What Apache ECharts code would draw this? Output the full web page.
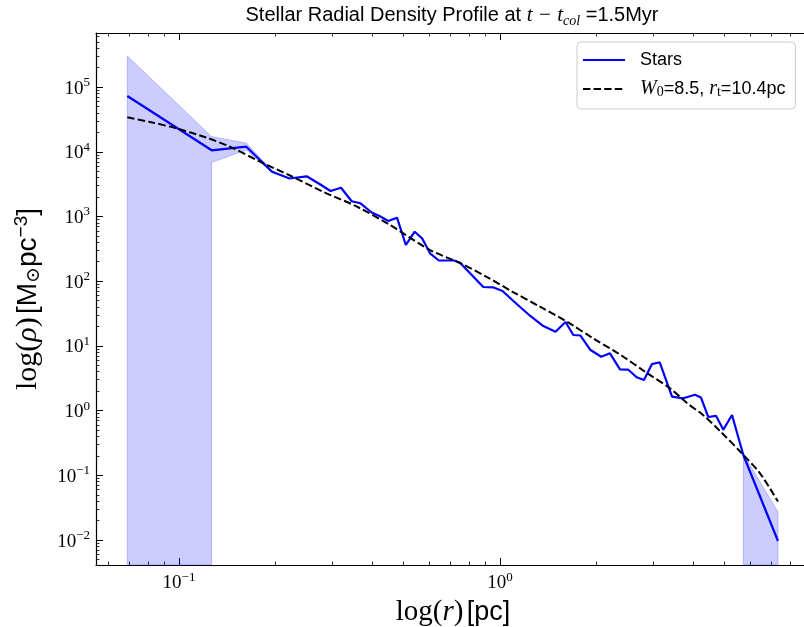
<!DOCTYPE html>
<html>
<head>
<meta charset="utf-8">
<script src="https://cdn.jsdelivr.net/npm/echarts@6/dist/echarts.min.js"></script>
<style>
  html, body { margin: 0; padding: 0; background: #ffffff; }
  #chart { width: 804px; height: 627px; }
</style>
</head>
<body>
<div id="chart"></div>
<script>
// Stellar density profile (radius in pc, density in Msun/pc^3)
const radius = [
  0.06901, 0.12641, 0.16209, 0.19494, 0.22089, 0.24986, 0.27403, 0.29648, 0.31966, 0.34514,
  0.36761, 0.39838, 0.42283, 0.44875, 0.47765, 0.50886, 0.54224, 0.57244, 0.60536, 0.64468,
  0.71908, 0.75067, 0.88698, 0.95105, 1.0181, 1.1274, 1.2401, 1.3643, 1.4892, 1.5999,
  1.6922, 1.7813, 1.9143, 2.0665, 2.2011, 2.3650, 2.5101, 2.6661, 2.8093, 2.9752,
  3.1445, 3.4355, 3.7239, 4.0502, 4.2285, 4.4557, 4.7086, 4.9626, 5.2817, 5.7283,
  7.3453
];
const density = [
  72850, 10550, 11990, 4924, 3867, 4181, 3180, 2479, 2787, 1718,
  1600, 1153, 1007, 852, 958, 362.6, 582.3, 457.1, 269.9, 208.9,
  208.9, 193.1, 81.35, 80.48, 70.55, 44.42, 29.30, 20.30, 16.58, 23.41,
  14.74, 14.48, 8.644, 6.809, 7.685, 4.347, 4.286, 3.272, 2.972, 5.252,
  5.579, 1.640, 1.549, 1.761, 1.594, 0.7963, 0.8311, 0.5069, 0.8551, 0.2060,
  0.00965
];

// King model profile, W0 = 8.5, rt = 10.4 pc
const kingRadius = [
  0.06901, 0.08124, 0.09717, 0.12139, 0.14413, 0.17881, 0.22169, 0.28094, 0.35847, 0.45433,
  0.60536, 0.75067, 0.91104, 1.0977, 1.3322, 1.6173, 1.9488, 2.3650, 2.8707, 3.3860,
  3.8239, 4.2897, 4.8459, 5.7148, 6.4565, 7.3453
];
const kingDensity = [
  34140, 28880, 23330, 16630, 11990, 7031, 4302, 2417, 1418, 738.9,
  303.5, 191.1, 116.1, 68.09, 40.35, 23.66, 13.11, 7.364, 3.812, 2.212,
  1.311, 0.8551, 0.4839, 0.2097, 0.1074, 0.03936
];

// Uncertainty bands (null lower bound = error reaches zero)
const bandInnerR = [0.06901, 0.12641, 0.16209, 0.19494];
const bandInnerUpper = [302500, 17120, 13680, 5100];
const bandInnerLower = [null, 6880, 10660, 4750];
const bandOuterR = [5.7283, 7.3453];
const bandOuterUpper = [0.2150, 0.02708];
const bandOuterLower = [0.2000, null];

// Axis ticks
const xMajorTicks = [0.1, 1];
const xMinorTicks = [0.06, 0.07, 0.08, 0.09, 0.2, 0.3, 0.4, 0.5, 0.6, 0.7, 0.8, 0.9,
                     2, 3, 4, 5, 6, 7, 8, 9];
const yMajorTicks = [0.01, 0.1, 1, 10, 100, 1000, 10000, 100000];
const yMinorTicks = [];
for (let e = -3; e <= 5; e++) {
  for (let m = 2; m <= 9; m++) yMinorTicks.push(+(m * Math.pow(10, e)).toPrecision(3));
}

const X_MIN = 0.05513, X_MAX = 9.242;
const Y_MIN = 0.004111, Y_MAX = 685500;

const SERIF = "'Liberation Serif', 'DejaVu Serif', serif";
const SANS = "'Liberation Sans', 'DejaVu Sans', sans-serif";

const bands = [
  { r: bandInnerR, upper: bandInnerUpper, lower: bandInnerLower },
  { r: bandOuterR, upper: bandOuterUpper, lower: bandOuterLower }
];

function powerLabel(v) {
  const e = Math.round(Math.log10(v));
  const s = e < 0 ? '\u2212' + (-e) : String(e);
  return '{b|10}{s|' + s + '}';
}

const tickRich = {
  b: { fontFamily: SERIF, fontSize: 19, lineHeight: 22, color: '#000', verticalAlign: 'bottom' },
  s: { fontFamily: SERIF, fontSize: 13, lineHeight: 13, color: '#000', verticalAlign: 'top' }
};

function logAxis(extra) {
  return Object.assign({
    type: 'log',
    logBase: 10,
    gridIndex: 0,
    splitLine: { show: false },
    minorTick: { show: false },
    minorSplitLine: { show: false }
  }, extra);
}

const xAxes = [
  logAxis({
    position: 'bottom', min: X_MIN, max: X_MAX,
    axisLine: { show: true, onZero: false, lineStyle: { color: '#000', width: 1.2 } },
    axisTick: { show: true, inside: true, length: 7, customValues: xMajorTicks, lineStyle: { color: '#000', width: 1 } },
    axisLabel: { show: true, margin: 6, customValues: xMajorTicks, formatter: powerLabel, rich: tickRich },
    name: '{m|log(}{mi|r}{m|)} {t|[pc]}',
    nameLocation: 'middle', nameGap: 21,
    nameTextStyle: {
      rich: {
        m: { fontFamily: SERIF, fontSize: 29, lineHeight: 32, color: '#000' },
        mi: { fontFamily: SERIF, fontStyle: 'italic', fontSize: 29, lineHeight: 32, color: '#000' },
        t: { fontFamily: SANS, fontSize: 27, lineHeight: 32, color: '#000' }
      }
    }
  }),
  logAxis({
    position: 'bottom', min: X_MIN, max: X_MAX,
    axisLine: { show: false, onZero: false },
    axisTick: { show: true, inside: true, length: 3.5, customValues: xMinorTicks, lineStyle: { color: '#000', width: 0.8 } },
    axisLabel: { show: false }
  }),
  logAxis({
    position: 'top', min: X_MIN, max: X_MAX,
    axisLine: { show: true, onZero: false, lineStyle: { color: '#000', width: 1.2 } },
    axisTick: { show: true, inside: true, length: 7, customValues: xMajorTicks, lineStyle: { color: '#000', width: 1 } },
    axisLabel: { show: false }
  }),
  logAxis({
    position: 'top', min: X_MIN, max: X_MAX,
    axisLine: { show: false, onZero: false },
    axisTick: { show: true, inside: true, length: 3.5, customValues: xMinorTicks, lineStyle: { color: '#000', width: 0.8 } },
    axisLabel: { show: false }
  })
];

const yAxes = [
  logAxis({
    position: 'left', min: Y_MIN, max: Y_MAX,
    axisLine: { show: true, onZero: false, lineStyle: { color: '#000', width: 1.2 } },
    axisTick: { show: true, inside: true, length: 7, customValues: yMajorTicks, lineStyle: { color: '#000', width: 1 } },
    axisLabel: { show: true, margin: 6, customValues: yMajorTicks, formatter: powerLabel, rich: tickRich },
    name: '{m|log(}{mi|\u03c1}{m|)} {t|[M}{sb|\u2299}{t|pc}{sp|\u22123}{t|]}',
    nameLocation: 'middle', nameGap: 52, nameRotate: 90,
    nameTextStyle: {
      rich: {
        m: { fontFamily: SERIF, fontSize: 30, lineHeight: 32, color: '#000' },
        mi: { fontFamily: SERIF, fontStyle: 'italic', fontSize: 30, lineHeight: 32, color: '#000' },
        t: { fontFamily: SANS, fontSize: 28, lineHeight: 32, color: '#000' },
        sb: { fontFamily: SERIF, fontSize: 19, lineHeight: 16, verticalAlign: 'bottom', color: '#000' },
        sp: { fontFamily: SANS, fontSize: 19, lineHeight: 16, verticalAlign: 'top', color: '#000' }
      }
    }
  }),
  logAxis({
    position: 'left', min: Y_MIN, max: Y_MAX,
    axisLine: { show: false, onZero: false },
    axisTick: { show: true, inside: true, length: 3.5, customValues: yMinorTicks, lineStyle: { color: '#000', width: 0.8 } },
    axisLabel: { show: false }
  })
];

const MODEL_NAME = 'King W0=8.5, rt=10.4pc';

const option = {
  animation: false,
  backgroundColor: '#ffffff',
  title: {
    text: '{a|Stellar Radial Density Profile at }{m|t \u2212 t}{sb|col}{a| =1.5Myr}',
    left: 452, top: 2, textAlign: 'center', padding: 0,
    textStyle: {
      fontWeight: 'normal',
      rich: {
        a: { fontFamily: SANS, fontWeight: 'normal', fontSize: 20, lineHeight: 26, color: '#000' },
        m: { fontFamily: SERIF, fontWeight: 'normal', fontStyle: 'italic', fontSize: 21, lineHeight: 26, color: '#000' },
        sb: { fontFamily: SERIF, fontWeight: 'normal', fontStyle: 'italic', fontSize: 14, lineHeight: 13, verticalAlign: 'bottom', color: '#000' }
      }
    }
  },
  legend: {
    orient: 'vertical',
    left: 577, top: 42,
    data: ['Stars', MODEL_NAME],
    itemWidth: 42, itemHeight: 14, itemGap: 10,
    padding: [9, 10, 10, 5],
    borderColor: '#cccccc', borderWidth: 1, borderRadius: 4,
    backgroundColor: 'rgba(255,255,255,0.8)',
    itemStyle: { color: 'rgba(0,0,0,0)', borderColor: 'rgba(0,0,0,0)', borderWidth: 0, opacity: 0 },
    formatter: function (name) {
      if (name === MODEL_NAME) return '{mi|W}{sb|0}{t|=8.5, }{mi|r}{sb|t}{t|=10.4pc}';
      return '{t|' + name + '}';
    },
    textStyle: {
      padding: [0, 0, 0, 10],
      rich: {
        t: { fontFamily: SANS, fontSize: 18, lineHeight: 20, color: '#000' },
        mi: { fontFamily: SERIF, fontStyle: 'italic', fontSize: 20, lineHeight: 20, color: '#000' },
        sb: { fontFamily: SERIF, fontSize: 14, lineHeight: 12, verticalAlign: 'bottom', color: '#000' }
      }
    }
  },
  grid: { left: 96, top: 33, width: 714, height: 532, containLabel: false, outerBoundsMode: 'none' },
  xAxis: xAxes,
  yAxis: yAxes,
  series: [
    {
      type: 'custom',
      name: 'band',
      xAxisIndex: 0, yAxisIndex: 0,
      data: bands.map(b => [b.r[0], b.upper[0]]),
      encode: { x: 0, y: 1 },
      z: 1,
      renderItem: function (params, api) {
        const b = bands[params.dataIndex];
        const n = b.r.length;
        const pts = [];
        for (let i = 0; i < n; i++) pts.push(api.coord([b.r[i], b.upper[i]]));
        for (let i = n - 1; i >= 0; i--) {
          const lo = b.lower[i];
          if (lo === null) {
            pts.push(api.coord([b.r[i], Y_MIN]));
          } else {
            if (i < n - 1 && b.lower[i + 1] === null) pts.push(api.coord([b.r[i], Y_MIN]));
            pts.push(api.coord([b.r[i], lo]));
            if (i > 0 && b.lower[i - 1] === null) pts.push(api.coord([b.r[i], Y_MIN]));
          }
        }
        return {
          type: 'polygon',
          shape: { points: pts },
          style: { fill: 'rgba(0,0,255,0.2)', stroke: 'rgba(0,0,255,0.22)', lineWidth: 1 }
        };
      }
    },
    {
      type: 'line',
      name: 'Stars',
      xAxisIndex: 0, yAxisIndex: 0,
      data: radius.map((r, i) => [r, density[i]]),
      symbol: 'none', showSymbol: false,
      lineStyle: { color: '#0000ff', width: 2.2 },
      itemStyle: { color: '#0000ff' },
      z: 3
    },
    {
      type: 'line',
      name: MODEL_NAME,
      xAxisIndex: 0, yAxisIndex: 0,
      data: kingRadius.map((r, i) => [r, kingDensity[i]]),
      symbol: 'none', showSymbol: false,
      smooth: 0.3,
      lineStyle: { color: '#000000', width: 2, type: [7.4, 3.2] },
      itemStyle: { color: '#000000' },
      z: 4
    }
  ]
};

const chart = echarts.init(document.getElementById('chart'), null, { renderer: 'canvas' });
chart.setOption(option);
</script>
</body>
</html>
